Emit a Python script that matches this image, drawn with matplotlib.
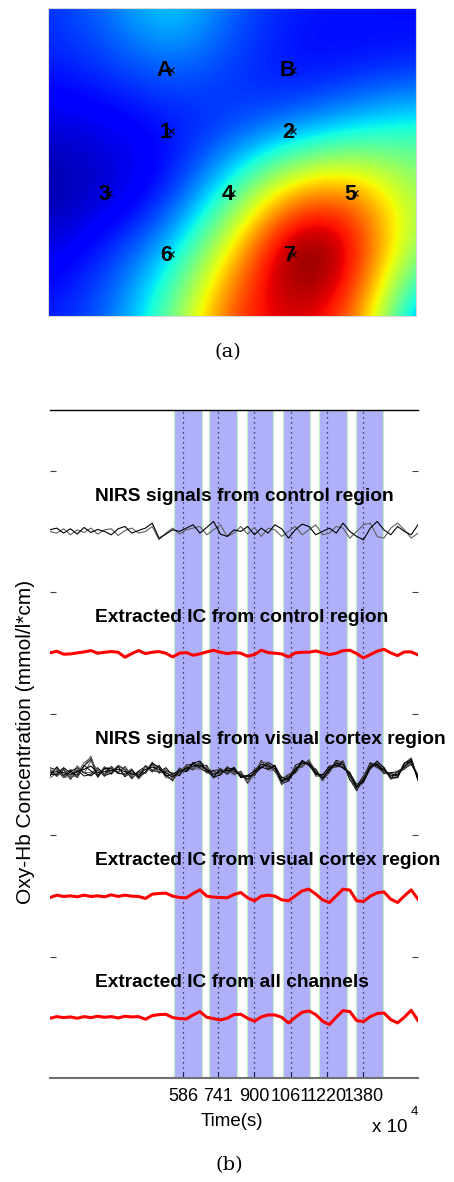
import numpy as np
import matplotlib
matplotlib.use('Agg')
import matplotlib.pyplot as plt

# ---------------- (a) topographic map ----------------
grid_x = [-1, 0, 1, 2, 3, 4, 5]
grid_y = [-1, 0, 1, 2, 3, 4]
map_values = [
    [0.17, 0.24, 0.38, 0.22, 0.15, 0.14, 0.13],
    [0.15, 0.18, 0.23, 0.18, 0.12, 0.13, 0.15],
    [0.07, 0.09, 0.13, 0.17, 0.24, 0.34, 0.42],
    [0.02, 0.06, 0.13, 0.42, 0.78, 0.82, 0.54],
    [0.09, 0.17, 0.32, 0.70, 1.10, 0.97, 0.50],
    [0.15, 0.22, 0.48, 0.88, 0.92, 0.84, 0.18],
]
channel_names = ['A', 'B', '1', '2', '3', '4', '5', '6', '7']
channel_x = [1, 3, 1, 3, 0, 2, 4, 1, 3]
channel_y = [0, 0, 1, 1, 2, 2, 2, 3, 3]

# ---------------- (b) time courses ----------------
time_s = list(range(0, 1621, 30))
onsets = [586, 741, 900, 1061, 1220, 1380]
onset_labels = ['586', '741', '900', '1061', '1220', '1380']
block_start = [546, 701, 866, 1024, 1186, 1347]
block_end = [668, 824, 983, 1145, 1306, 1468]

panel_titles = ['NIRS signals from control region',
                'Extracted IC from control region',
                'NIRS signals from visual cortex region',
                'Extracted IC from visual cortex region',
                'Extracted IC from all channels']
panel_base = [4.5, 3.5, 2.5, 1.5, 0.5]

nirs_control_1 = [5, 10, -5, 8, -8, 12, -3, 6, 0, -10, 8, 15, -5, 3, 10, 25, -20, -8, 5, 0,
                  10, 20, -5, 12, 30, -8, -15, 5, 0, 15, -10, 10, -5, 20, 8, -20, 5, 22, 15, -10,
                  0, 10, -5, 25, 0, -15, -25, 10, 30, 5, -10, 15, 0, -10, 20]
nirs_control_2 = [0, -5, 8, -10, 5, -3, 10, -8, 5, 8, -12, 3, 10, -5, 0, 15, -25, -5, 10, -8,
                  5, 10, 15, -10, 5, 20, -15, -5, 15, -8, 12, -15, 10, 5, -15, 0, 15, -10, 5, 20,
                  -10, -5, 15, 10, -20, 0, 20, 25, -15, -20, 10, 25, 5, -20, -5]
ic_control = [0, 5, -4, -3, 0, 3, 7, -1, 2, 4, 2, -13, -2, 7, -2, 2, 4, -1, -12, -1,
              1, -7, -3, 3, 8, 2, -2, 1, -1, -10, -5, 8, 1, -1, -3, -12, 0, 2, 2, 6,
              0, -5, -1, 7, 8, -2, -15, -5, 5, 11, 0, -8, 3, 3, -6]
nirs_visual_mean = [5, 8, 5, 0, 8, 15, 25, 5, 8, 12, 15, 8, 2, -2, 15, 22, 15, 5, -8, 8,
                    18, 25, 28, 15, 0, 8, 12, 10, 0, -15, 5, 30, 25, 18, -20, -10, 15, 32, 35, 5,
                    -10, 15, 32, 30, -5, -40, -15, 25, 30, 12, -5, 0, 25, 40, -10]
nirs_visual_dev1 = [8, -12, 10, -15, 5, -20, -25, 15, -8, 12, -10, 15, -5, 10, -12, 8, -10, 5, 12, -8,
                    5, -12, 8, -5, 10, -8, 5, -10, 8, -12, 10, -8, 5, -10, 12, -8, 5, -10, 8, -5,
                    10, -8, 5, -12, 8, 10, -5, 8, -10, 5, -8, 10, -5, 8, -5]
nirs_visual_dev2 = [-10, 15, -8, 12, -18, 10, 20, -12, 15, -10, 8, -15, 12, -8, 10, -15, 12, -8, -10, 10,
                    -8, 10, -5, 12, -8, 10, -12, 8, -5, 10, -8, 12, -10, 8, -5, 10, -8, 8, -5, 10,
                    -8, 5, -10, 8, -12, 5, 10, -8, 5, -10, 8, -5, 10, -5, 8]
nirs_visual_dev3 = [15, 5, -15, 8, 12, -10, -30, 8, -12, -8, 12, 5, -15, 12, 8, -10, -8, 15, 5, -12,
                    10, 5, -10, -8, 12, 5, -8, 12, -10, 8, -5, -10, 12, 5, -8, -10, 12, 5, -8, 10,
                    -5, -8, 10, 5, -10, -8, 8, 10, -5, -8, 10, 8, -8, -10, 5]
nirs_visual_dev4 = [-5, -8, 15, 5, -10, 12, -15, -8, 10, 5, -12, -8, 10, -5, -8, 12, 5, -10, 8, 5,
                    -10, 8, 12, -5, -8, -10, 8, 5, -8, 12, 5, -8, -10, 8, 10, -5, -8, 10, -8, -5,
                    8, 10, -5, -10, 8, 5, -8, -5, 10, 8, -5, -10, 8, 5, -8]
ic_visual = [-5, 2, -2, 0, -3, 2, -2, 0, -3, 3, -2, 2, -1, -2, -8, 5, 7, 8, -1, -5,
             -6, 7, 18, -1, -4, -5, -6, 4, 10, -6, -15, -1, 2, -1, -12, -15, 0, 15, 20, 5,
             -12, -20, 0, 20, 17, -15, -17, -1, 9, 12, -10, -20, 0, 18, -10]
ic_all = [-3, 2, -1, 1, -3, 2, -1, 3, 0, 2, -2, 3, 1, 2, -6, 5, 8, 9, -1, -4,
          -5, 7, 17, 0, -4, -8, -3, 8, 9, -3, -12, 1, 7, 7, 0, -17, 0, 15, 19, 8,
          -12, -22, 0, 20, 17, -10, -13, 2, 11, 13, -7, -17, 0, 21, -10]
SIG_SCALE = 1 / 364.5   # reading units -> axis units

# ---------------- figure ----------------
W, H = 454, 1182
fig = plt.figure(figsize=(W / 100, H / 100), dpi=100)

# (a)
axm = fig.add_axes([48 / W, 1 - 316 / H, 368 / W, 308 / H])
arr = np.array(map_values)
dx = grid_x[1] - grid_x[0]
axm.imshow(arr, cmap='jet', vmin=0, vmax=1, interpolation='bicubic',
           extent=(grid_x[0] - dx / 2, grid_x[-1] + dx / 2, grid_y[-1] + dx / 2, grid_y[0] - dx / 2),
           aspect='auto')
axm.set_xlim(grid_x[0], grid_x[-1])
axm.set_ylim(grid_y[-1], grid_y[0])
axm.set_xticks([])
axm.set_yticks([])
for s in axm.spines.values():
    s.set_color('#d8d8d8')
    s.set_linewidth(0.8)
axm.plot(channel_x, channel_y, 'x', color='black', ms=4, mew=0.8)
for n, cx, cy in zip(channel_names, channel_x, channel_y):
    axm.annotate(n, (cx, cy), xytext=(1.0, -1.0), textcoords='offset points',
                 ha='right', va='center', fontsize=15.5, fontweight='bold',
                 family='Liberation Sans', color='black')

fig.text(228 / W, 1 - 352 / H, '(a)', ha='center', va='center', fontsize=14, family='DejaVu Serif')

# (b)
ax = fig.add_axes([50 / W, 1 - 1078 / H, 368 / W, 668 / H])
ax.set_xlim(0, 1620)
ax.set_ylim(0, 5.5)
for bs, be in zip(block_start, block_end):
    ax.axvspan(bs, be, facecolor=(0.69, 0.69, 0.98), edgecolor=(0.75, 0.95, 0.75), lw=0.8, zorder=1)
for o in onsets:
    ax.axvline(o, color='#1a1a50', ls=(0, (1, 3)), lw=0.9, zorder=2)

t = np.array(time_s)
b = panel_base
ax.plot(t, b[0] + np.array(nirs_control_2) * SIG_SCALE, color='#606060', lw=0.8, zorder=3)
ax.plot(t, b[0] + np.array(nirs_control_1) * SIG_SCALE, color='black', lw=0.8, zorder=3)
ax.plot(t, b[1] + np.array(ic_control) * SIG_SCALE, color='red', lw=2.2, zorder=3)
mean_v = np.array(nirs_visual_mean)
devs = [nirs_visual_dev1, nirs_visual_dev2, nirs_visual_dev3, nirs_visual_dev4]
k = 0
for d in devs:
    for sgn in (1, -1):
        ax.plot(t, b[2] + (mean_v + sgn * np.array(d)) * SIG_SCALE,
                color='black' if k % 2 == 0 else '#555555', lw=0.7, zorder=3)
        k += 1
ax.plot(t, b[2] + mean_v * SIG_SCALE, color='black', lw=0.8, zorder=3)
ax.plot(t, b[3] + np.array(ic_visual) * SIG_SCALE, color='red', lw=2.2, zorder=3)
ax.plot(t, b[4] + np.array(ic_all) * SIG_SCALE, color='red', lw=2.2, zorder=3)

for title, base in zip(panel_titles, panel_base):
    ax.text(197, base + 0.29, title, ha='left', va='center', fontsize=13.8,
            fontweight='bold', family='Liberation Sans', zorder=4, clip_on=False)

ax.spines['left'].set_visible(False)
ax.spines['right'].set_visible(False)
ax.spines['top'].set_color('black')
ax.spines['top'].set_linewidth(1.0)
ax.spines['bottom'].set_color('#707070')
ax.spines['bottom'].set_linewidth(1.5)
ax.set_yticks([1, 2, 3, 4, 5])
ax.set_yticklabels([])
ax.tick_params(axis='y', which='both', direction='in', length=4, width=0.8,
               color='#404040', left=True, right=True)
ax.set_xticks(onsets)
ax.set_xticklabels(onset_labels, fontsize=13, family='Liberation Sans')
ax.tick_params(axis='x', direction='in', length=4, width=0.8, color='#1a1a50', pad=7)

fig.text(232 / W, 1 - 1122 / H, 'Time(s)', ha='center', va='center', fontsize=13.5, family='Liberation Sans')
fig.text(390 / W, 1 - 1128 / H, 'x 10', ha='center', va='center', fontsize=13.5, family='Liberation Sans')
fig.text(414 / W, 1 - 1112 / H, '4', ha='center', va='center', fontsize=9.5, family='Liberation Sans')
fig.text(26 / W, 1 - 742 / H, 'Oxy-Hb Concentration (mmol/l*cm)', rotation=90,
         ha='center', va='center', fontsize=15, family='Liberation Sans')
fig.text(229 / W, 1 - 1165 / H, '(b)', ha='center', va='center', fontsize=14, family='DejaVu Serif')

fig.savefig('out.png', dpi=100)
